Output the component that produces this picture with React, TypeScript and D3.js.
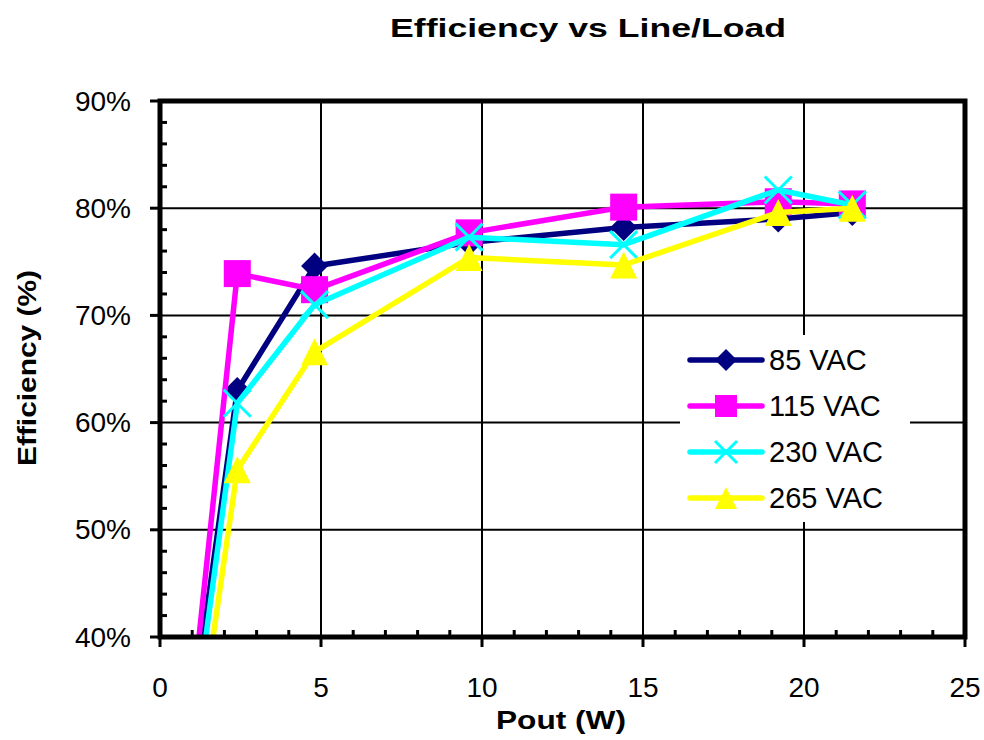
import * as d3 from "d3";

const pout = [1.0, 2.4, 4.8, 9.6, 14.4, 19.2, 21.5];
const eff85 = [32.7, 63.0, 74.6, 76.8, 78.2, 79.0, 79.6];
const eff115 = [34.0, 73.9, 72.4, 77.7, 80.1, 80.6, 80.4];
const eff230 = [30.6, 61.8, 71.0, 77.3, 76.6, 81.7, 80.3];
const eff265 = [26.6, 55.6, 66.6, 75.4, 74.7, 79.6, 80.0];
const seriesNames = ["85 VAC", "115 VAC", "230 VAC", "265 VAC"];
const seriesColors = ["#000080", "#FF00FF", "#00FFFF", "#FFFF00"];
const seriesShapes = ["diamond", "square", "x", "triangle"];
const xTicks = [0, 5, 10, 15, 20, 25];
const yTicks = [40, 50, 60, 70, 80, 90];

function Marker({ shape, color, cx, cy, s }: { shape: string; color: string; cx: number; cy: number; s: number }) {
    const h = s / 2;
    if (shape === "diamond") {
        return <path d={`M${cx},${cy - h}L${cx + h},${cy}L${cx},${cy + h}L${cx - h},${cy}Z`} fill={color} />;
    }
    if (shape === "square") {
        return <rect x={cx - h} y={cy - h} width={s} height={s} fill={color} />;
    }
    if (shape === "triangle") {
        return <path d={`M${cx},${cy - h}L${cx + h},${cy + h}L${cx - h},${cy + h}Z`} fill={color} />;
    }
    return (
        <path d={`M${cx - h},${cy - h}L${cx + h},${cy + h}M${cx - h},${cy + h}L${cx + h},${cy - h}`}
            stroke={color} strokeWidth={3} fill="none" />
    );
}

export default function App() {
    const width = 984;
    const height = 740;
    const marginLeft = 160;
    const marginRight = 19;
    const marginTop = 101;
    const marginBottom = 103;
    const x = d3.scaleLinear([0, 25], [marginLeft, width - marginRight]);
    const y = d3.scaleLinear([40, 90], [height - marginBottom, marginTop]);
    const allSeries = [eff85, eff115, eff230, eff265];
    const line = d3.line<number>((_, i) => x(pout[i]), (d) => y(d));
    const font = "Liberation Sans, Arial, sans-serif";
    const x0 = x(0), x1 = x(25), y0 = y(40), y1 = y(90);
    const xMinor = d3.range(1, 25).filter((v) => v % 5 !== 0);
    const yMinor = d3.range(42, 90, 2).filter((v) => v % 10 !== 0);

    return (
        <svg width={width} height={height} style={{ position: "absolute", left: 0, top: 0 }} fontFamily={font}>
            <defs>
                <clipPath id="plot">
                    <rect x={x0} y={y1} width={x1 - x0} height={y0 - y1} />
                </clipPath>
            </defs>
            <text x={588} y={37} textAnchor="middle" fontSize={26} fontWeight="bold" textLength={396} lengthAdjust="spacingAndGlyphs">
                Efficiency vs Line/Load
            </text>
            {/* grid */}
            <g stroke="#000" strokeWidth={2}>
                {yTicks.map((t) => <line key={t} x1={x0} x2={x1} y1={y(t)} y2={y(t)} />)}
                {xTicks.map((t) => <line key={t} x1={x(t)} x2={x(t)} y1={y0} y2={y1} />)}
            </g>
            {/* ticks */}
            <g stroke="#000" strokeWidth={3}>
                {yTicks.map((t) => <line key={t} x1={x0 - 10} x2={x0} y1={y(t)} y2={y(t)} />)}
                {yMinor.map((t) => <line key={t} x1={x0} x2={x0 + 7} y1={y(t)} y2={y(t)} />)}
                {xTicks.map((t) => <line key={t} x1={x(t)} x2={x(t)} y1={y0} y2={y0 + 10} />)}
                {xMinor.map((t) => <line key={t} x1={x(t)} x2={x(t)} y1={y0 - 7} y2={y0} />)}
            </g>
            {/* series */}
            <g clipPath="url(#plot)">
                {allSeries.map((vals, si) => (
                    <g key={si}>
                        <path d={line(vals) ?? ""} fill="none" stroke={seriesColors[si]} strokeWidth={5.5} strokeLinejoin="round" />
                        {vals.map((v, i) => (
                            <Marker key={i} shape={seriesShapes[si]} color={seriesColors[si]} cx={x(pout[i])} cy={y(v)} s={27} />
                        ))}
                    </g>
                ))}
            </g>
            <rect x={x0} y={y1} width={x1 - x0} height={y0 - y1} fill="none" stroke="#000" strokeWidth={5} />
            {/* tick labels */}
            <g fontSize={28} fill="#000">
                {yTicks.map((t) => (
                    <text key={t} x={131} y={y(t)} textAnchor="end" dominantBaseline="central">{`${t}%`}</text>
                ))}
                {xTicks.map((t) => (
                    <text key={t} x={x(t)} y={697} textAnchor="middle">{t}</text>
                ))}
            </g>
            <text x={561} y={729} textAnchor="middle" fontSize={26} fontWeight="bold" textLength={130} lengthAdjust="spacingAndGlyphs">
                Pout (W)
            </text>
            <text transform="translate(36,368) rotate(-90)" textAnchor="middle" fontSize={26} fontWeight="bold" textLength={196} lengthAdjust="spacingAndGlyphs">
                Efficiency (%)
            </text>
            {/* legend */}
            <rect x={680} y={335} width={230} height={187} fill="#fff" />
            {seriesNames.map((name, si) => {
                const ly = 360 + si * 46;
                return (
                    <g key={name}>
                        <line x1={690} x2={762} y1={ly} y2={ly} stroke={seriesColors[si]} strokeWidth={5.5} strokeLinecap="round" />
                        <Marker shape={seriesShapes[si]} color={seriesColors[si]} cx={726} cy={ly} s={22} />
                        <text x={769} y={ly} fontSize={29} dominantBaseline="central">{name}</text>
                    </g>
                );
            })}
        </svg>
    );
}
